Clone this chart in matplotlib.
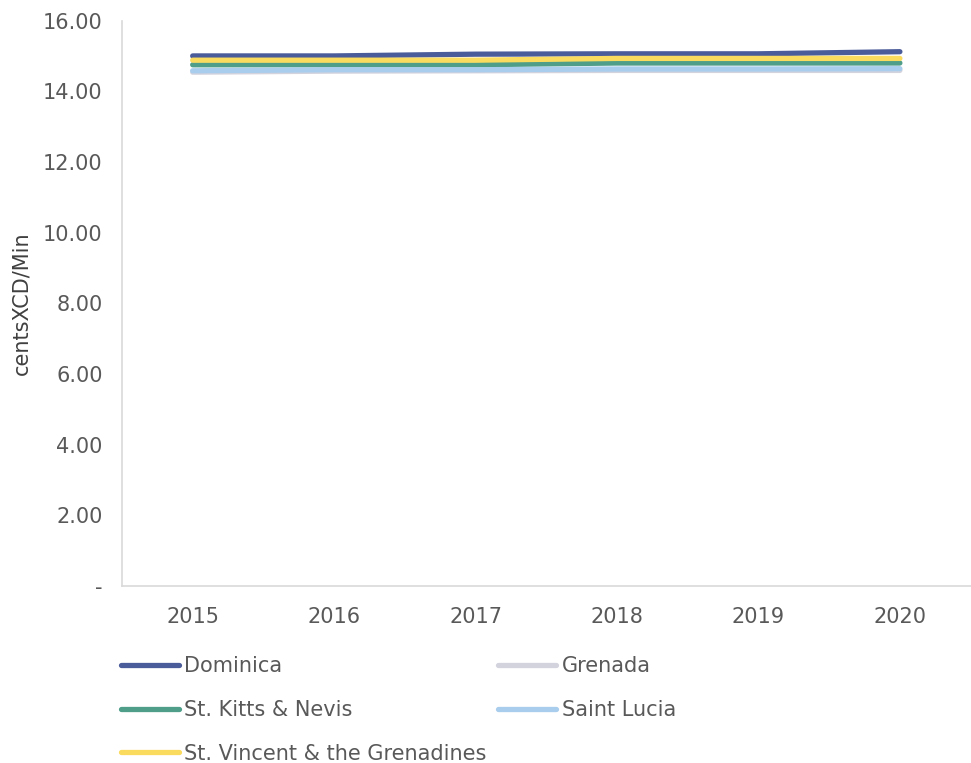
import matplotlib.pyplot as plt
from matplotlib.ticker import FuncFormatter

years = ["2015", "2016", "2017", "2018", "2019", "2020"]
dominica = [15.00, 15.00, 15.05, 15.06, 15.06, 15.12]
grenada = [14.54, 14.57, 14.58, 14.59, 14.59, 14.59]
st_kitts = [14.75, 14.75, 14.75, 14.80, 14.80, 14.80]
saint_lucia = [14.58, 14.61, 14.61, 14.63, 14.63, 14.64]
st_vincent = [14.88, 14.88, 14.88, 14.93, 14.93, 14.93]

series = [
    ("Dominica", dominica, "#4B5C9A"),
    ("Grenada", grenada, "#D3D3DE"),
    ("St. Kitts & Nevis", st_kitts, "#4F9E89"),
    ("Saint Lucia", saint_lucia, "#A9CDEC"),
    ("St. Vincent & the Grenadines", st_vincent, "#FADB5E"),
]

fig = plt.figure(figsize=(9.71, 7.63), dpi=100)
ax = fig.add_axes([0.1256, 0.232, 0.874, 0.741])

x = range(len(years))
handles = {}
for name, vals, col in series:
    h, = ax.plot(x, vals, color=col, lw=3.8, solid_capstyle="round", label=name)
    handles[name] = h

ax.set_xlim(-0.5, 5.5)
ax.set_ylim(0, 16)
ax.set_xticks(list(x))
ax.set_xticklabels(years)
ax.set_yticks([0, 2, 4, 6, 8, 10, 12, 14, 16])
ax.yaxis.set_major_formatter(FuncFormatter(lambda v, p: "-" if v == 0 else f"{v:.2f}"))
ax.tick_params(length=0, labelsize=15, colors="#595959")
ax.tick_params(axis="y", pad=14)
ax.tick_params(axis="x", pad=15)
ax.set_ylabel("centsXCD/Min", fontsize=15, color="#404040", labelpad=8)

for s in ["top", "right"]:
    ax.spines[s].set_visible(False)
for s in ["left", "bottom"]:
    ax.spines[s].set_color("#D9D9D9")
    ax.spines[s].set_linewidth(1.2)

order = ["Dominica", "St. Kitts & Nevis", "St. Vincent & the Grenadines", "Grenada", "Saint Lucia"]
leg = fig.legend([handles[n] for n in order], order, ncol=2, loc="upper left",
                 bbox_to_anchor=(0.105, 0.165), frameon=False, fontsize=15,
                 handlelength=2.8, handletextpad=0.25, columnspacing=0.55,
                 labelspacing=1.15)
for t in leg.get_texts():
    t.set_color("#595959")

fig.savefig("out.png", dpi=100)
